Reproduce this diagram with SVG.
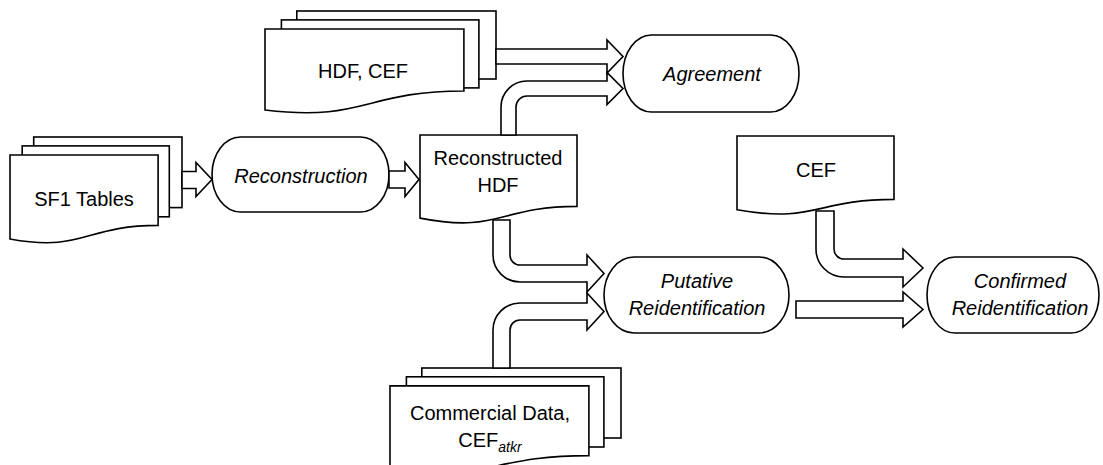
<svg xmlns="http://www.w3.org/2000/svg" width="1103" height="465" viewBox="0 0 1103 465">
<style>
.s{fill:#fff;stroke:#000;stroke-width:1.6;stroke-linejoin:miter}
.t{font-family:"Liberation Sans",Arial,sans-serif;font-size:20px;fill:#000;text-anchor:middle}
.i{font-style:italic}
</style>
<rect width="1103" height="465" fill="#fff"/>
<g id="sf1">
<rect class="s" x="33.7" y="137" width="148.3" height="70.6"/>
<rect class="s" x="22.2" y="145.9" width="147.1" height="70.9"/>
<path class="s" d="M10,155 H158.1 V225.4 C84,225.4 84,252.5 10,239 Z"/>
<text class="t" x="84" y="206">SF1 Tables</text>
</g>
<g id="reconstruction">
<rect class="s" x="212" y="137" width="177" height="75" rx="28.5" ry="37.5"/>
<text class="t i" x="301" y="183">Reconstruction</text>
</g>
<g id="hdfcef">
<rect class="s" x="296.8" y="11" width="199.2" height="68"/>
<rect class="s" x="281.4" y="19.9" width="197.5" height="68"/>
<path class="s" d="M265,29 H463.9 V91 C364.4,91 364.4,122 265,110 Z"/>
<text class="t" x="363" y="78">HDF, CEF</text>
</g>
<g id="agreement">
<rect class="s" x="623" y="35" width="176" height="77" rx="28.5" ry="38.5"/>
<text class="t i" x="712" y="81">Agreement</text>
</g>
<g id="reconhdf">
<path class="s" d="M420,135 H577 V206.4 C498.5,206.4 498.5,233.6 420,218.1 Z"/>
<text class="t" x="498" y="165">Reconstructed</text>
<text class="t" x="498" y="192">HDF</text>
</g>
<g id="cef">
<path class="s" d="M737,136 H894 V199.4 C815.5,199.4 815.5,223.5 737,209.8 Z"/>
<text class="t" x="816" y="177">CEF</text>
</g>
<g id="putative">
<rect class="s" x="604" y="257" width="185" height="76" rx="30" ry="38"/>
<text class="t i" x="697" y="288">Putative</text>
<text class="t i" x="697" y="315">Reidentification</text>
</g>
<g id="confirmed">
<rect class="s" x="927" y="257" width="172" height="76" rx="28" ry="38"/>
<text class="t i" x="1020" y="288">Confirmed</text>
<text class="t i" x="1020" y="315">Reidentification</text>
</g>
<g id="commercial">
<rect class="s" x="421.8" y="368" width="199.2" height="70"/>
<rect class="s" x="406.4" y="376.8" width="197.5" height="70.2"/>
<path class="s" d="M390,385.9 H588.9 V455.6 C489.4,455.6 489.4,482.4 390,469 Z"/>
<text class="t" x="490" y="420">Commercial Data,</text>
<text class="t" x="490" y="447">CEF<tspan class="i" font-size="14" dy="5">atkr</tspan></text>
</g>
<g id="connectors">
<path class="s" d="M182,171.5 H196 V162.5 L212,179.5 L196,196.5 V188.5 H182 Z"/>
<path class="s" d="M389,171 H405 V162.5 L419,179.5 L405,196.5 V188 H389 Z"/>
<path class="s" d="M496,49 H607 V40 L623,56.5 L607,73 V64 H496 Z"/>
<path class="s" d="M501,135 V107 A26,26 0 0 1 527,81 H607 V72.5 L623,88.5 L607,104.5 V96 H527 A11,11 0 0 0 516,107 V135 Z"/>
<path class="s" d="M493,220 V255 A27,27 0 0 0 520,282 H587 V292 L604,273.5 L587,255 V265 H520 A10,10 0 0 1 510,255 V220 Z"/>
<path class="s" d="M493,368 V330 A27,27 0 0 1 520,303 H587 V293 L604,311.5 L587,330 V320 H520 A10,10 0 0 0 510,330 V368 Z"/>
<path class="s" d="M816,211 V249 A28,28 0 0 0 844,277 H903 V287 L923,268 L903,249 V259 H844 A10,10 0 0 1 834,249 V211 Z"/>
<path class="s" d="M796,301 H903 V292 L923,309.5 L903,327 V318 H796 Z"/>
</g>
</svg>
